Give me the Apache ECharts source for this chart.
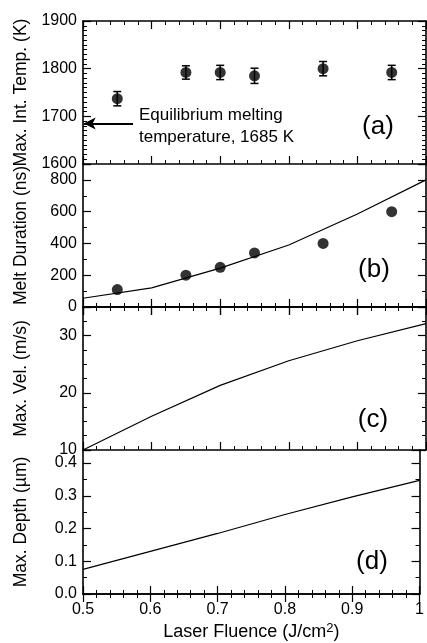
<!DOCTYPE html>
<html><head><meta charset="utf-8">
<script src="https://cdn.jsdelivr.net/npm/echarts@6/dist/echarts.min.js"></script>
<style>html,body{margin:0;padding:0;background:#fff}#c{width:427px;height:643px}</style>
</head><body><div id="c"></div>
<script>
// Data
const fluence = [0.55, 0.65, 0.70, 0.75, 0.85, 0.95];
const tempMax = [1737, 1792, 1792, 1785, 1800, 1792];
const tempErr = [15, 14, 15, 16, 15, 15];
const meltMeasured = [110, 200, 250, 340, 400, 600];
const modelFluence = [0.5, 0.6, 0.7, 0.8, 0.9, 1.0];
const meltModel = [55, 120, 245, 390, 585, 800];
const velModel = [10, 15.9, 21.3, 25.6, 29.1, 32.1];
const depthModel = [0.075, 0.13, 0.185, 0.243, 0.297, 0.347];
const meltingPoint = 1685;
const yTitles = ['Max. Int. Temp. (K)', 'Melt Duration (ns)', 'Max. Vel. (m/s)', 'Max. Depth (\u00b5m)'];
const panelLabels = ['(a)', '(b)', '(c)', '(d)'];
const yRanges = [[1600, 1900, 100, 10], [0, 900, 200, 2], [10, 35, 10, 4], [0, 0.44, 0.1, 2]];
const yLabelValues = [[1600, 1700, 1800, 1900], [0, 200, 400, 600, 800], [10, 20, 30], [0, 0.1, 0.2, 0.3, 0.4]];
const xTickLabels = ['0.5', '0.6', '0.7', '0.8', '0.9', '1'];

const FONT = '"Liberation Sans", Arial, Helvetica, sans-serif';
const tops = [21, 164, 307, 450];
const heights = [143, 143, 143, 144];
const grids = tops.map((t, i) => ({left: 83, width: 343, top: t, height: heights[i]}));

const axisLine = {show: true, lineStyle: {color: '#000', width: 1.6}};
const xAxes = [], yAxes = [];
for (let i = 0; i < 4; i++) {
  ['bottom', 'top'].forEach((pos, k) => {
    const showLab = (i === 3 && pos === 'bottom');
    xAxes.push({
      type: 'value', gridIndex: i, position: pos, min: 0.5, max: 1.0, interval: 0.1,
      axisLine: axisLine,
      axisTick: {show: true, inside: true, length: 8, lineStyle: {color: '#000', width: 1.2}},
      minorTick: {show: true, splitNumber: 5, length: 4, lineStyle: {color: '#000', width: 1}},
      splitLine: {show: false},
      axisLabel: {show: showLab, margin: 8, color: '#000', fontFamily: FONT, fontSize: 16,
        formatter: v => { const idx = Math.round((v - 0.5) * 10); return xTickLabels[idx] || ''; }},
      name: showLab ? '{a|Laser Fluence (J/cm}{s|2}{a|)}' : '',
      nameLocation: 'middle', nameGap: 28,
      nameTextStyle: {rich: {a: {fontFamily: FONT, fontSize: 18, color: '#000'},
                             s: {fontFamily: FONT, fontSize: 13, color: '#000', padding: [0, 0, 8, 0]}}}
    });
  });
  const r = yRanges[i];
  const labs = yLabelValues[i];
  ['left', 'right'].forEach((pos) => {
    const showLab = pos === 'left';
    yAxes.push({
      type: 'value', gridIndex: i, position: pos, min: r[0], max: r[1], interval: r[2],
      axisLine: axisLine,
      axisTick: {show: true, inside: true, length: 8, lineStyle: {color: '#000', width: 1.2}},
      minorTick: {show: true, splitNumber: r[3], length: 4, lineStyle: {color: '#000', width: 1}},
      splitLine: {show: false},
      axisLabel: {show: showLab, margin: 6, color: '#000', fontFamily: FONT, fontSize: 16,
        formatter: v => labs.some(l => Math.abs(l - v) < 1e-6) ? (i === 3 ? v.toFixed(1) : String(v)) : ''},
      name: showLab ? yTitles[i] : '',
      nameLocation: 'middle', nameGap: 53,
      nameTextStyle: {fontFamily: FONT, fontSize: 17.5, color: '#000'}
    });
  });
}

const pairs = (xs, ys) => xs.map((x, j) => [x, ys[j]]);

const series = [
  {type: 'custom', xAxisIndex: 0, yAxisIndex: 0,
   data: fluence.map((x, j) => [x, tempMax[j] - tempErr[j], tempMax[j] + tempErr[j]]),
   encode: {x: 0, y: [1, 2]},
   renderItem: (params, api) => {
     const x = api.value(0);
     const p1 = api.coord([x, api.value(2)]);
     const p2 = api.coord([x, api.value(1)]);
     const w = 4;
     const st = {stroke: '#000', lineWidth: 1.5};
     return {type: 'group', children: [
       {type: 'line', shape: {x1: p1[0], y1: p1[1], x2: p2[0], y2: p2[1]}, style: st},
       {type: 'line', shape: {x1: p1[0] - w, y1: p1[1], x2: p1[0] + w, y2: p1[1]}, style: st},
       {type: 'line', shape: {x1: p2[0] - w, y1: p2[1], x2: p2[0] + w, y2: p2[1]}, style: st}
     ]};
   }},
  {type: 'scatter', xAxisIndex: 0, yAxisIndex: 0, data: pairs(fluence, tempMax),
   symbol: 'circle', symbolSize: 11, itemStyle: {color: '#000'}, z: 5,
   markLine: {silent: true, symbol: ['none', 'arrow'], symbolSize: [9, 12],
     lineStyle: {color: '#000', width: 2, type: 'solid'}, label: {show: false},
     data: [[{coord: [0.573, meltingPoint]}, {coord: [0.501, meltingPoint]}]]}},
  {type: 'line', xAxisIndex: 2, yAxisIndex: 2, data: pairs(modelFluence, meltModel),
   showSymbol: false, symbol: 'none', lineStyle: {color: '#000', width: 1.2}},
  {type: 'scatter', xAxisIndex: 2, yAxisIndex: 2, data: pairs(fluence, meltMeasured),
   symbol: 'circle', symbolSize: 11, itemStyle: {color: '#000'}, z: 5},
  {type: 'line', xAxisIndex: 4, yAxisIndex: 4, data: pairs(modelFluence, velModel),
   showSymbol: false, symbol: 'none', lineStyle: {color: '#000', width: 1.2}},
  {type: 'line', xAxisIndex: 6, yAxisIndex: 6, data: pairs(modelFluence, depthModel),
   showSymbol: false, symbol: 'none', lineStyle: {color: '#000', width: 1.2}}
];

const labelPos = [[378, 127], [374, 270], [373, 420], [372, 562]];
const graphic = panelLabels.map((t, i) => ({
  type: 'text', x: labelPos[i][0], y: labelPos[i][1], z: 10,
  style: {text: t, font: '26px ' + FONT, fill: '#000', align: 'center', verticalAlign: 'middle'}
}));
graphic.push({type: 'text', x: 139, y: 126, z: 10,
  style: {text: 'Equilibrium melting\ntemperature, 1685 K', font: '17px ' + FONT, lineHeight: 22,
          fill: '#000', align: 'left', verticalAlign: 'middle'}});

const chart = echarts.init(document.getElementById('c'), null, {renderer: 'canvas'});
chart.setOption({
  backgroundColor: '#fff', animation: false,
  grid: grids, xAxis: xAxes, yAxis: yAxes, series: series, graphic: graphic
});
</script></body></html>
